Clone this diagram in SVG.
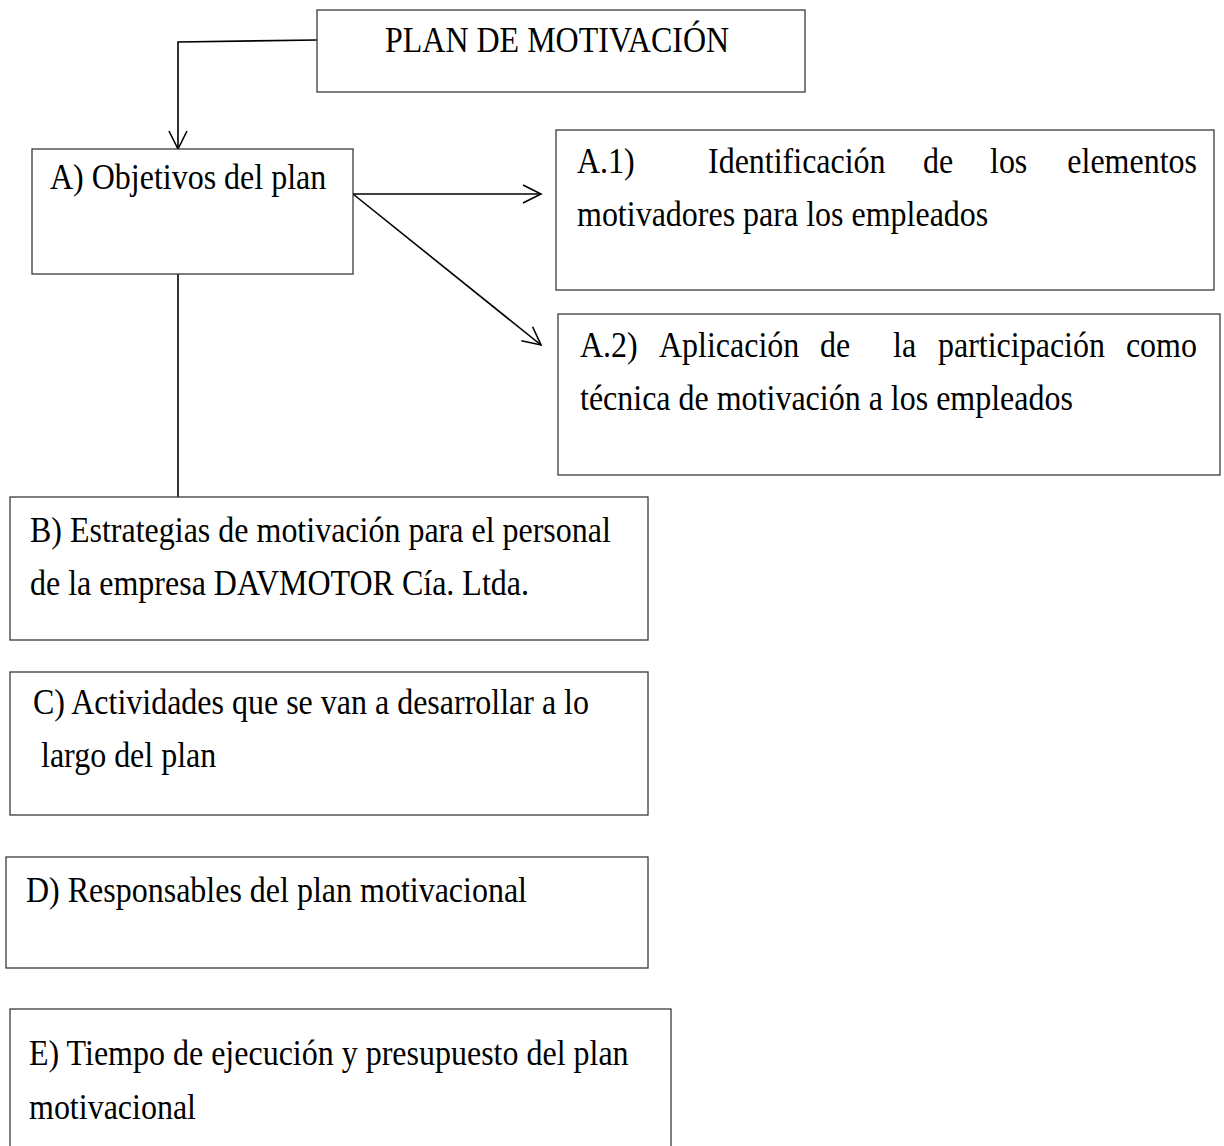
<svg xmlns="http://www.w3.org/2000/svg" width="1224" height="1146" viewBox="0 0 1224 1146">
<defs>
<style>
.box{fill:#fff;stroke:#3a3a3a;stroke-width:1.3}
.t{font-family:"Liberation Serif","Times New Roman",serif;font-size:32px;fill:#000}
.c{fill:none;stroke:#000;stroke-width:1.6}
</style>
<marker id="arr" markerUnits="userSpaceOnUse" markerWidth="22" markerHeight="22" refX="19" refY="10" orient="auto" overflow="visible">
<path d="M1,1 L19,10 L1,19" fill="none" stroke="#000" stroke-width="1.6"/>
</marker>
</defs>
<rect width="1224" height="1146" fill="#fff"/>
<g id="connectors">
<polyline class="c" points="317,40 178,42 178,149" marker-end="url(#arr)"/>
<line class="c" x1="353" y1="194" x2="541" y2="194" marker-end="url(#arr)"/>
<line class="c" x1="353" y1="194" x2="541" y2="345" marker-end="url(#arr)"/>
<line class="c" x1="178" y1="274" x2="178" y2="497"/>
</g>
<g id="plan">
<rect class="box" x="317" y="10" width="488" height="82"/>
<g transform="translate(0,52) scale(1,1.15)"><text class="t" x="385" y="0">PLAN DE MOTIVACIÓN</text></g>
</g>
<g id="a">
<rect class="box" x="32" y="149" width="321" height="125"/>
<g transform="translate(0,189) scale(1,1.15)"><text class="t" x="50" y="0">A) Objetivos del plan</text></g>
</g>
<g id="a1">
<rect class="box" x="556" y="130" width="658" height="160"/>
<g transform="translate(0,173) scale(1,1.15)">
<text class="t" y="0"><tspan x="577">A.1)</tspan><tspan x="708">Identificación</tspan><tspan x="923">de</tspan><tspan x="990">los</tspan></text>
<text class="t" x="1197" y="0" text-anchor="end">elementos</text>
</g>
<g transform="translate(0,226) scale(1,1.15)"><text class="t" x="577" y="0">motivadores para los empleados</text></g>
</g>
<g id="a2">
<rect class="box" x="558" y="314" width="662" height="161"/>
<g transform="translate(0,357) scale(1,1.15)">
<text class="t" y="0"><tspan x="580">A.2)</tspan><tspan x="659">Aplicación</tspan><tspan x="820">de</tspan><tspan x="893">la</tspan><tspan x="938">participación</tspan></text>
<text class="t" x="1197" y="0" text-anchor="end">como</text>
</g>
<g transform="translate(0,410) scale(1,1.15)"><text class="t" x="580" y="0">técnica de motivación a los empleados</text></g>
</g>
<g id="b">
<rect class="box" x="10" y="497" width="638" height="143"/>
<g transform="translate(0,542) scale(1,1.15)"><text class="t" x="30" y="0">B) Estrategias de motivación para el personal</text></g>
<g transform="translate(0,595) scale(1,1.15)"><text class="t" x="30" y="0">de la empresa DAVMOTOR Cía. Ltda.</text></g>
</g>
<g id="c">
<rect class="box" x="10" y="672" width="638" height="143"/>
<g transform="translate(0,714) scale(1,1.15)"><text class="t" x="33" y="0">C) Actividades que se van a desarrollar a lo</text></g>
<g transform="translate(0,767) scale(1,1.15)"><text class="t" x="41" y="0">largo del plan</text></g>
</g>
<g id="d">
<rect class="box" x="6" y="857" width="642" height="111"/>
<g transform="translate(0,902) scale(1,1.15)"><text class="t" x="26" y="0">D) Responsables del plan motivacional</text></g>
</g>
<g id="e">
<rect class="box" x="10" y="1009" width="661" height="160"/>
<g transform="translate(0,1065) scale(1,1.15)"><text class="t" x="29" y="0">E) Tiempo de ejecución y presupuesto del plan</text></g>
<g transform="translate(0,1119) scale(1,1.15)"><text class="t" x="29" y="0">motivacional</text></g>
</g>
</svg>
